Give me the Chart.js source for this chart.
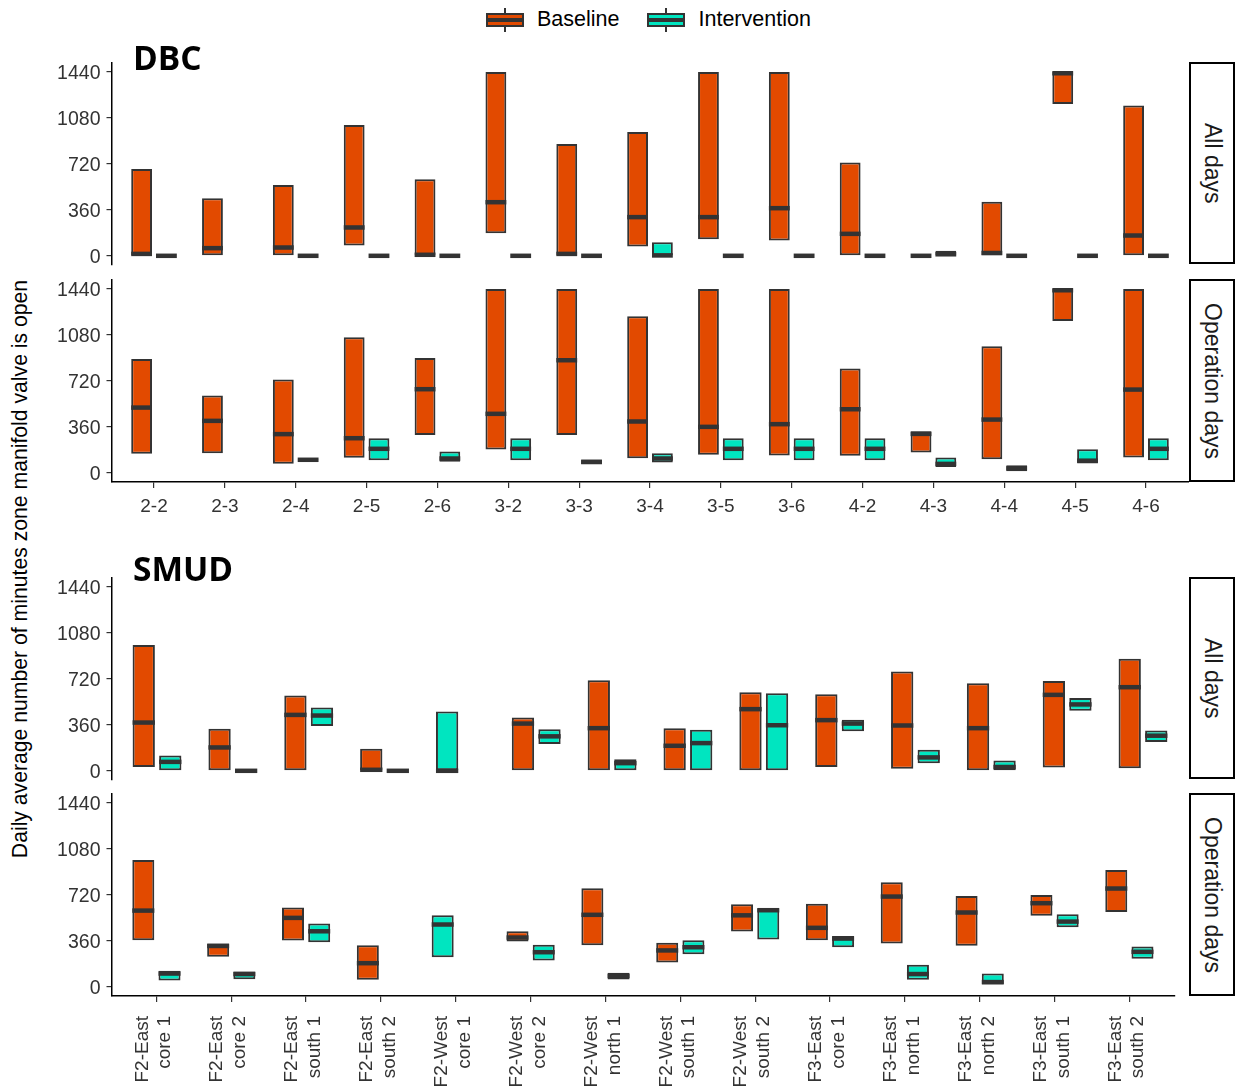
<!DOCTYPE html>
<html>
<head>
<meta charset="utf-8">
<script src="https://cdn.jsdelivr.net/npm/chart.js@4.4.1/dist/chart.umd.min.js"></script>
<style>
  body { margin: 0; background: #fff; font-family: 'Liberation Sans', Arial, sans-serif; }
  #page { position: relative; width: 1239px; height: 1087px; overflow: hidden; }
  canvas { position: absolute; left: 40px; }
  .strip { position: absolute; left: 1189px; width: 46px; box-sizing: border-box; border: 2px solid #000;
           display: flex; align-items: center; justify-content: center; background: #fff; }
  .strip span { writing-mode: vertical-rl; font-size: 23px; color: #1a1a1a; white-space: nowrap; }
  .site { position: absolute; left: 133px; font-family: 'Open Sans', sans-serif; font-weight: 700; font-size: 33.5px; line-height: 34px; color: #000; }
  #ytitle { position: absolute; left: -290px; top: 557px; width: 620px; text-align: center; font-size: 21.2px;
            color: #000; transform: rotate(-90deg); white-space: nowrap; }
  #legend { position: absolute; top: 7px; left: 486px; display: flex; align-items: center; font-size: 21.5px; color: #000; }
  .key { position: relative; width: 38px; height: 24px; margin-right: 13px; }
  .key .wh { position: absolute; left: 18px; top: 0; width: 1.5px; height: 24px; background: #333; }
  .key .bx { position: absolute; left: 0; top: 5px; width: 38px; height: 14px; box-sizing: border-box; border: 2px solid #333; }
  .key .md { position: absolute; left: 0; top: 10px; width: 38px; height: 4px; background: #333; }
  .lab { margin-right: 28px; }
</style>
</head>
<body>
<div id="page">
  <div id="legend">
    <div class="key"><div class="wh"></div><div class="bx" style="background:#E24A00"></div><div class="md"></div></div><span class="lab">Baseline</span>
    <div class="key"><div class="wh"></div><div class="bx" style="background:#00E5C0"></div><div class="md"></div></div><span class="lab">Intervention</span>
  </div>

  <div id="ytitle">Daily average number of minutes zone manifold valve is open</div>

  <canvas id="dbcAll" width="1149" height="242" style="top:43px"></canvas>
  <canvas id="dbcOp" width="1149" height="262" style="top:260px"></canvas>
  <canvas id="smudAll" width="1149" height="242" style="top:558px"></canvas>
  <canvas id="smudOp" width="1149" height="313" style="top:774px"></canvas>

  <div class="site" style="top:40px">DBC</div>
  <div class="site" style="top:551px">SMUD</div>

  <div class="strip" style="top:62px;height:202px"><span>All days</span></div>
  <div class="strip" style="top:279px;height:203px"><span>Operation days</span></div>
  <div class="strip" style="top:577px;height:202px"><span>All days</span></div>
  <div class="strip" style="top:793px;height:203px"><span>Operation days</span></div>
</div>

<script>
// box values are [lower quartile, median, upper quartile], null = no box
const dbcZones = ['2-2', '2-3', '2-4', '2-5', '2-6', '3-2', '3-3', '3-4', '3-5', '3-6', '4-2', '4-3', '4-4', '4-5', '4-6'];
const smudZones = [
  ['F2-East', 'core 1'], ['F2-East', 'core 2'], ['F2-East', 'south 1'], ['F2-East', 'south 2'],
  ['F2-West', 'core 1'], ['F2-West', 'core 2'], ['F2-West', 'north 1'], ['F2-West', 'south 1'],
  ['F2-West', 'south 2'], ['F3-East', 'core 1'], ['F3-East', 'north 1'], ['F3-East', 'north 2'],
  ['F3-East', 'south 1'], ['F3-East', 'south 2']
];
const yTicks = [0, 360, 720, 1080, 1440];

const dbcAllBaseline = [
  [0, 15, 680], [0, 60, 450], [0, 65, 555], [80, 222, 1025], [0, 8, 600],
  [177, 420, 1440], [0, 15, 875], [73, 303, 970], [130, 303, 1440], [120, 373, 1440],
  [0, 172, 730], [0, 0, 0], [0, 22, 423], [1190, 1430, 1440], [0, 159, 1177]
];
const dbcAllIntervention = [
  [0, 0, 0], null, [0, 0, 0], [0, 0, 0], [0, 0, 0],
  [0, 0, 0], [0, 0, 0], [0, 3, 107], [0, 0, 0], [0, 0, 0],
  [0, 0, 0], [0, 12, 40], [0, 0, 0], [0, 0, 0], [0, 0, 0]
];
const dbcOpBaseline = [
  [149, 511, 892], [154, 407, 605], [70, 303, 730], [117, 271, 1062], [297, 655, 900],
  [183, 462, 1440], [297, 882, 1440], [115, 402, 1226], [141, 360, 1440], [136, 381, 1440],
  [133, 498, 817], [160, 305, 325], [107, 417, 991], [1190, 1430, 1440], [120, 652, 1440]
];
const dbcOpIntervention = [
  null, null, [100, 102, 104], [99, 188, 271], [86, 112, 167],
  [99, 188, 271], [68, 85, 105], [81, 112, 154], [99, 188, 271], [99, 188, 271],
  [99, 188, 271], [45, 70, 120], [12, 35, 60], [72, 95, 185], [99, 188, 271]
];

const smudAllBaseline = [
  [29, 378, 986], [0, 183, 329], [0, 438, 590], [0, 8, 172], null,
  [0, 370, 417], [0, 334, 710], [0, 196, 334], [0, 483, 616], [29, 397, 600],
  [16, 355, 777], [5, 334, 686], [26, 595, 704], [21, 655, 877]
];
const smudAllIntervention = [
  [5, 70, 120], [0, 0, 0], [352, 433, 496], [0, 0, 0], [0, 0, 464],
  [210, 270, 326], [5, 60, 90], [0, 217, 321], [0, 357, 608], [310, 370, 400],
  [60, 105, 165], [0, 30, 80], [470, 520, 570], [225, 275, 315]
];
const smudOpBaseline = [
  [365, 597, 994], [235, 320, 340], [363, 540, 621], [55, 185, 326], null,
  [355, 386, 436], [326, 564, 772], [190, 285, 345], [433, 560, 647], [365, 462, 650],
  [340, 707, 819], [321, 582, 712], [556, 655, 720], [587, 770, 916]
];
const smudOpIntervention = [
  [50, 104, 125], [60, 100, 120], [350, 435, 496], null, [232, 488, 561],
  [206, 271, 329], [58, 85, 110], [255, 310, 365], [370, 600, 613], [310, 378, 399],
  [55, 100, 172], [18, 37, 104], [467, 511, 569], [219, 274, 316]
];

const baselineColor = '#E24A00';
const interventionColor = '#00E5C0';
const edgeColor = '#333333';

Chart.defaults.font.family = "'Liberation Sans', Arial, sans-serif";

// draws the thick median bar across each box
const medianPlugin = {
  id: 'medianLines',
  afterDatasetsDraw(chart) {
    const ctx = chart.ctx;
    const y = chart.scales.y;
    ctx.save();
    ctx.strokeStyle = edgeColor;
    ctx.lineWidth = 4.5;
    chart.data.datasets.forEach((ds, di) => {
      const meta = chart.getDatasetMeta(di);
      meta.data.forEach((bar, i) => {
        const m = ds.medians[i];
        if (m == null) return;
        const py = y.getPixelForValue(m);
        ctx.beginPath();
        ctx.moveTo(bar.x - bar.width / 2, py);
        ctx.lineTo(bar.x + bar.width / 2, py);
        ctx.stroke();
      });
    });
    ctx.restore();
  }
};

function makePanel(id, cats, base, intv, showX, rotated, xHeight, pad) {
  const n = cats.length;
  const slotA = [], slotB = [], medA = [], medB = [], colA = [];
  // when a zone has only one group, that box takes the left slot
  for (let i = 0; i < n; i++) {
    const a = base[i] || intv[i];
    const b = base[i] ? intv[i] : null;
    slotA.push({ x: i, y: a ? [a[0], a[2]] : null });
    medA.push(a ? a[1] : null);
    colA.push(base[i] ? baselineColor : interventionColor);
    slotB.push({ x: i, y: b ? [b[0], b[2]] : null });
    medB.push(b ? b[1] : null);
  }

  const ctx = document.getElementById(id).getContext('2d');
  return new Chart(ctx, {
    type: 'bar',
    data: {
      datasets: [
        { label: 'Baseline', data: slotA, medians: medA, backgroundColor: colA },
        { label: 'Intervention', data: slotB, medians: medB, backgroundColor: interventionColor }
      ]
    },
    options: {
      responsive: false,
      animation: false,
      layout: { padding: pad },
      categoryPercentage: 0.7,
      barPercentage: 0.84,
      datasets: {
        bar: { borderColor: edgeColor, borderWidth: 2, borderSkipped: false }
      },
      plugins: { legend: { display: false }, tooltip: { enabled: false } },
      scales: {
        x: {
          type: 'linear',
          min: -0.6,
          max: n - 0.4,
          offset: false,
          display: showX,
          afterBuildTicks: s => { s.ticks = cats.map((c, i) => ({ value: i })); },
          afterFit: s => { s.height = xHeight; },
          grid: { offset: false, drawOnChartArea: false, drawTicks: true, tickLength: 6, color: edgeColor, lineWidth: 1.2 },
          border: { display: true, color: '#000', width: 1.5 },
          ticks: {
            autoSkip: false,
            maxRotation: rotated ? 90 : 0,
            minRotation: rotated ? 90 : 0,
            labelOffset: rotated ? -14 : 0,
            padding: rotated ? 14 : 7,
            color: '#333',
            font: { size: 19 },
            callback: v => cats[v]
          }
        },
        y: {
          min: -72,
          max: 1512,
          afterBuildTicks: s => { s.ticks = yTicks.map(v => ({ value: v })); },
          afterFit: s => { s.width = 71.5; },
          grid: { drawOnChartArea: false, tickLength: 5, color: edgeColor, lineWidth: 1.2 },
          border: { color: '#000', width: 1.5 },
          ticks: { color: '#333', font: { size: 19.5 }, padding: 6, labelOffset: 1.5, callback: v => String(v) }
        }
      }
    },
    plugins: [medianPlugin]
  });
}

makePanel('dbcAll', dbcZones, dbcAllBaseline, dbcAllIntervention, false, false, 0, { top: 19.8, bottom: 20, right: 0.5 });
makePanel('dbcOp', dbcZones, dbcOpBaseline, dbcOpIntervention, true, false, 40, { top: 19.8, bottom: 0, right: 0.5 });
makePanel('smudAll', smudZones, smudAllBaseline, smudAllIntervention, false, true, 0, { top: 19.8, bottom: 20, right: 0.5 });
makePanel('smudOp', smudZones, smudOpBaseline, smudOpIntervention, true, true, 91, { top: 19.8, bottom: 0, right: 0.5 });
</script>
</body>
</html>
